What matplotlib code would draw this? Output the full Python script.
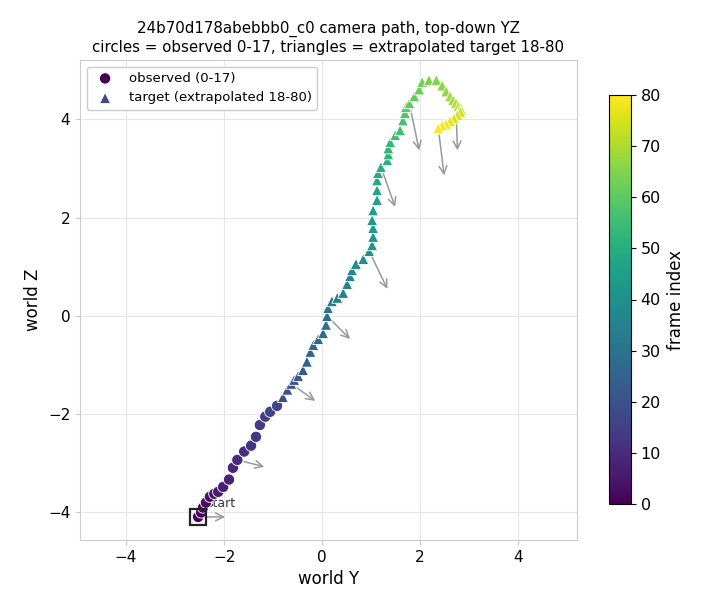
import matplotlib
matplotlib.use('Agg')
import matplotlib.pyplot as plt
import numpy as np

# observed camera positions, frames 0-17 (world Y, world Z)
obs_y = [-2.53, -2.47, -2.43, -2.37, -2.29, -2.20, -2.12, -2.02, -1.90, -1.82,
         -1.73, -1.59, -1.45, -1.35, -1.27, -1.16, -1.06, -0.92]
obs_z = [-4.09, -4.00, -3.90, -3.80, -3.68, -3.62, -3.58, -3.48, -3.33, -3.09,
         -2.93, -2.76, -2.64, -2.46, -2.22, -2.05, -1.95, -1.83]

# extrapolated target, frames 18-80
tgt_y = [-0.80, -0.71, -0.63, -0.57, -0.49, -0.39, -0.31, -0.24, -0.18, -0.08,
         0.02, 0.08, 0.10, 0.12, 0.20, 0.31, 0.43, 0.51, 0.57, 0.61,
         0.69, 0.84, 0.96, 1.02, 1.04, 1.04, 1.02, 1.04, 1.12, 1.12,
         1.12, 1.14, 1.20, 1.33, 1.35, 1.35, 1.39, 1.49, 1.59, 1.65,
         1.69, 1.71, 1.78, 1.88, 1.98, 2.04, 2.18, 2.33, 2.45, 2.53,
         2.61, 2.67, 2.73, 2.78, 2.82, 2.84, 2.82, 2.76, 2.69, 2.61,
         2.53, 2.45, 2.37]
tgt_z = [-1.65, -1.50, -1.38, -1.30, -1.22, -1.10, -0.93, -0.73, -0.59, -0.47,
         -0.35, -0.18, 0.00, 0.16, 0.30, 0.37, 0.47, 0.65, 0.81, 0.93,
         1.06, 1.16, 1.32, 1.44, 1.61, 1.79, 1.95, 2.15, 2.36, 2.56,
         2.76, 2.91, 3.03, 3.17, 3.29, 3.41, 3.54, 3.68, 3.78, 3.98,
         4.13, 4.25, 4.33, 4.47, 4.61, 4.76, 4.80, 4.80, 4.69, 4.57,
         4.47, 4.39, 4.33, 4.27, 4.23, 4.19, 4.15, 4.09, 4.02, 3.96,
         3.90, 3.88, 3.82]

# camera heading arrows every 10 frames
arrow_frames = [0, 10, 20, 30, 40, 50, 60, 70, 80]
arrow_dy = [0.55, 0.55, 0.49, 0.47, 0.37, 0.29, 0.20, 0.03, 0.12]
arrow_dz = [0.00, -0.14, -0.35, -0.47, -0.77, -0.81, -0.96, -0.96, -0.96]

obs_frames = np.arange(len(obs_y))
tgt_frames = np.arange(len(obs_y), len(obs_y) + len(tgt_y))
all_y = np.concatenate([obs_y, tgt_y])
all_z = np.concatenate([obs_z, tgt_z])

fig = plt.figure(figsize=(7.2, 6.12), dpi=100)
ax = fig.add_axes([80/720, 1 - 540/612, 497/720, 480/612])
cax = fig.add_axes([609/720, 1 - 504/612, 22/720, 409/612])

ax.grid(True, color='#e6e6e6', lw=0.8, zorder=0)
for s in ax.spines.values():
    s.set_color('#cccccc')
ax.tick_params(colors='#cccccc', labelcolor='black', labelsize=11)

for f, dy, dz in zip(arrow_frames, arrow_dy, arrow_dz):
    ax.annotate('', xy=(all_y[f] + dy, all_z[f] + dz), xytext=(all_y[f], all_z[f]),
                arrowprops=dict(arrowstyle='->', color='#999999', lw=1.1,
                                shrinkA=5, shrinkB=0, mutation_scale=14),
                zorder=2)

ax.annotate('start', xy=(obs_y[0], obs_z[0]), xytext=(6, 5), textcoords='offset points',
            fontsize=9, color='#333333', ha='left', va='bottom', zorder=1)

sc = ax.scatter(obs_y, obs_z, c=obs_frames, cmap='viridis', vmin=0, vmax=80,
                marker='o', s=66, edgecolors='white', linewidths=0.6, zorder=3,
                label='observed (0-17)')
ax.scatter(tgt_y, tgt_z, c=tgt_frames, cmap='viridis', vmin=0, vmax=80,
           marker='^', s=62, edgecolors='white', linewidths=0.6, zorder=3,
           label='target (extrapolated 18-80)')
ax.plot(obs_y[0], obs_z[0], marker='s', ms=11, mfc='none', mec='#222222', mew=1.6, zorder=4)

ax.set_xlim(-4.94, 5.2)
ax.set_ylim(-4.56, 5.21)
ax.set_xticks([-4, -2, 0, 2, 4])
ax.set_yticks([-4, -2, 0, 2, 4])
ax.set_xlabel('world Y', fontsize=12)
ax.set_ylabel('world Z', fontsize=12)
ax.set_title('24b70d178abebbb0_c0 camera path, top-down YZ\n'
             'circles = observed 0-17, triangles = extrapolated target 18-80', fontsize=10.8)
ax.legend(loc='upper left', fontsize=9.5, framealpha=1, edgecolor='#cccccc')

cb = fig.colorbar(sc, cax=cax)
cb.set_label('frame index', fontsize=12)
cb.ax.tick_params(labelsize=11.5)

plt.savefig('out.png', dpi=100)
